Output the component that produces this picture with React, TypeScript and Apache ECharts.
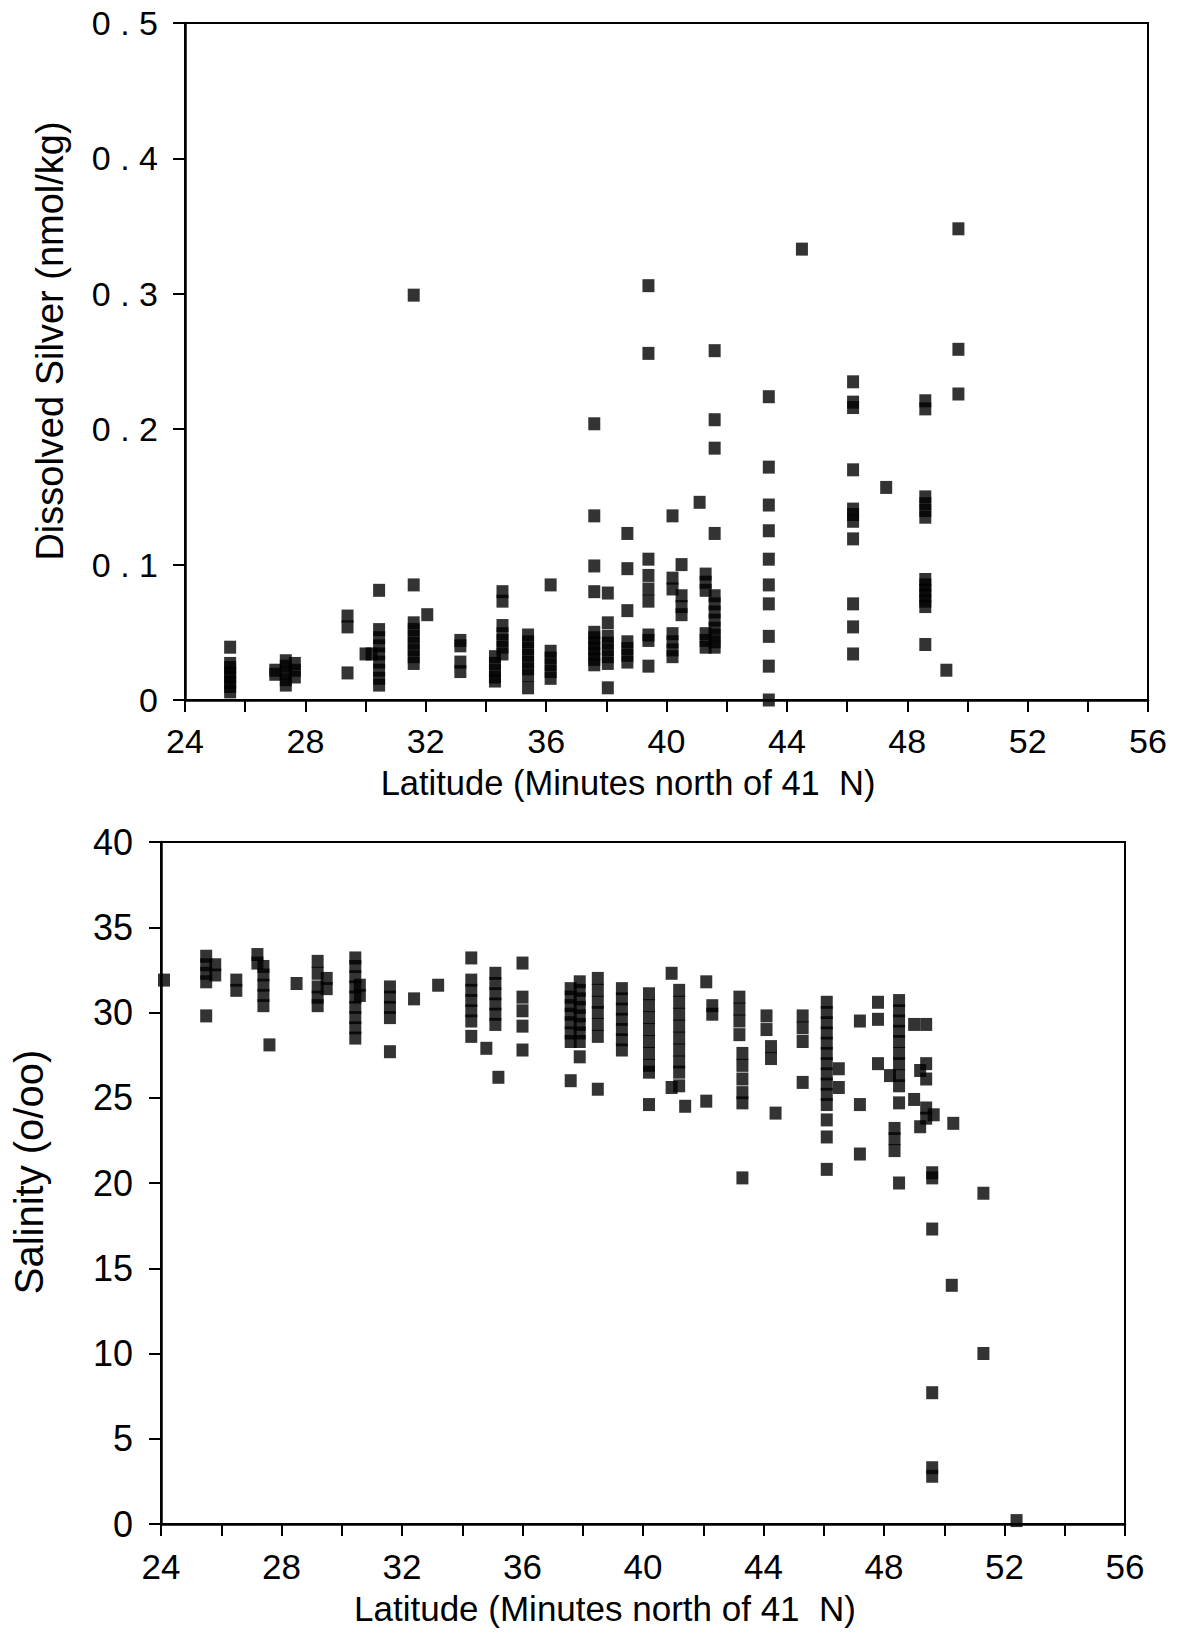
import React, { useEffect, useRef } from "react";
import * as echarts from "echarts";

// ---------- Data: top panel (dissolved silver, nmol/kg) ----------
const silverLatitudes: number[] = [
  25.5, 27.0, 27.35, 27.65, 29.4, 30.0, 30.2, 30.45, 31.6, 32.05, 33.15, 34.3, 34.55, 35.4, 36.15,
  37.6, 38.05, 38.7, 39.4, 40.2, 40.5, 41.1, 41.3, 41.6, 43.4, 44.5, 46.2, 47.3, 48.6, 49.3, 49.7,
];
const silverValues: number[][] = [
  [0.039, 0.027, 0.024, 0.02, 0.017, 0.013, 0.01, 0.006],
  [0.022, 0.019],
  [0.029, 0.025, 0.02, 0.015, 0.011],
  [0.027, 0.022, 0.017],
  [0.062, 0.054, 0.02],
  [0.034],
  [0.034],
  [0.081, 0.052, 0.046, 0.04, 0.034, 0.028, 0.022, 0.016, 0.011],
  [0.299, 0.085, 0.057, 0.052, 0.047, 0.042, 0.037, 0.032, 0.027],
  [0.063],
  [0.044, 0.04, 0.028, 0.021],
  [0.032, 0.027, 0.022, 0.017, 0.014],
  [0.08, 0.073, 0.055, 0.049, 0.044, 0.039, 0.034],
  [0.048, 0.043, 0.038, 0.033, 0.028, 0.023, 0.018, 0.009],
  [0.085, 0.036, 0.031, 0.026, 0.021, 0.016],
  [0.204, 0.136, 0.099, 0.08, 0.05, 0.046, 0.042, 0.038, 0.034, 0.03, 0.026],
  [0.079, 0.057, 0.047, 0.042, 0.037, 0.032, 0.027, 0.009],
  [0.123, 0.097, 0.066, 0.043, 0.038, 0.033, 0.028],
  [0.306, 0.256, 0.104, 0.092, 0.082, 0.073, 0.048, 0.044, 0.025],
  [0.136, 0.09, 0.082, 0.049, 0.043, 0.037, 0.032],
  [0.1, 0.077, 0.069, 0.063],
  [0.146],
  [0.093, 0.087, 0.081, 0.049, 0.044, 0.039],
  [0.258, 0.207, 0.186, 0.123, 0.077, 0.071, 0.065, 0.059, 0.053, 0.048, 0.043, 0.039],
  [0.224, 0.172, 0.144, 0.125, 0.104, 0.085, 0.071, 0.047, 0.025, 0.0],
  [0.333],
  [0.235, 0.22, 0.216, 0.17, 0.141, 0.137, 0.132, 0.119, 0.071, 0.054, 0.034],
  [0.157],
  [0.221, 0.215, 0.15, 0.145, 0.14, 0.135, 0.089, 0.085, 0.081, 0.077, 0.073, 0.069, 0.041],
  [0.022],
  [0.348, 0.259, 0.226],
];

// ---------- Data: bottom panel (salinity, o/oo) ----------
const salinityLatitudes: number[] = [
  24.1, 25.5, 25.8, 26.5, 27.2, 27.4, 27.6, 28.5, 29.2, 29.5, 30.45, 30.6, 31.6, 32.4, 33.2, 34.3,
  34.8, 35.1, 35.2, 36.0, 37.6, 37.9, 38.5, 39.3, 40.2, 40.95, 41.2, 41.4, 42.1, 42.3, 43.2, 43.3,
  44.1, 44.25, 44.4, 45.3, 46.1, 46.5, 47.2, 47.8, 48.2, 48.35, 48.5, 49.0, 49.2, 49.4, 49.6, 49.65,
  50.25, 50.3, 51.3, 52.4,
];
const salinityValues: number[][] = [
  [31.9],
  [33.3, 32.8, 32.3, 31.8, 29.8],
  [32.8, 32.2],
  [31.9, 31.3],
  [33.4, 32.9],
  [32.7, 32.2, 31.6, 31.0, 30.4],
  [28.1],
  [31.7],
  [33.0, 32.3, 31.5, 30.9, 30.4],
  [32.0, 31.4],
  [33.2, 32.7, 32.1, 31.5, 30.9, 30.3, 29.7, 29.1, 28.5],
  [31.6, 31.0],
  [31.5, 30.9, 30.3, 29.7, 27.7],
  [30.8],
  [31.6],
  [33.2, 31.9, 31.3, 30.7, 30.1, 29.5, 28.6],
  [27.9],
  [32.3, 31.7, 31.1, 30.5, 29.9, 29.3],
  [26.2],
  [32.9, 30.9, 30.1, 29.2, 27.8],
  [31.4, 30.9, 30.4, 29.9, 29.4, 28.8, 28.3, 26.0],
  [31.8, 31.3, 30.8, 30.3, 29.8, 29.3, 28.8, 28.3, 27.4],
  [32.0, 31.3, 30.6, 30.0, 29.3, 28.6, 25.5],
  [31.4, 30.8, 30.2, 29.6, 29.0, 28.4, 27.8],
  [31.1, 30.4, 29.7, 29.0, 28.3, 27.6, 26.9, 26.5, 24.6],
  [32.3, 25.6],
  [31.3, 30.6, 29.9, 29.2, 28.5, 27.8, 27.1, 26.5, 25.7],
  [24.5],
  [31.8, 24.8],
  [30.4, 29.9],
  [30.9, 30.2, 29.5, 28.7],
  [27.6, 26.9, 26.1, 25.3, 24.7, 20.3],
  [29.8, 29.0],
  [28.0, 27.3],
  [24.1],
  [29.8, 29.1, 28.3, 25.9],
  [30.6, 30.0, 29.4, 28.8, 28.2, 27.6, 27.0, 26.4, 25.8, 25.2, 24.6, 23.7, 22.7, 20.8],
  [26.7, 25.6],
  [29.5, 24.6, 21.7],
  [30.6, 29.6, 27.0],
  [26.3],
  [23.2, 22.6, 21.9],
  [30.7, 30.1, 29.5, 28.9, 28.3, 27.6, 27.0, 26.3, 25.7, 24.7, 20.0],
  [29.3, 24.9],
  [26.6, 23.3],
  [29.3, 27.0, 26.1, 24.4, 23.8],
  [20.6, 20.3, 17.3, 7.7, 3.3, 2.8],
  [24.0],
  [14.0],
  [23.5],
  [19.4, 10.0],
  [0.2],
];

// ---------- Axis ticks ----------
const latitudeTicks: number[] = [24, 28, 32, 36, 40, 44, 48, 52, 56];
const silverTicks: number[] = [0, 0.1, 0.2, 0.3, 0.4, 0.5];
const salinityTicks: number[] = [0, 5, 10, 15, 20, 25, 30, 35, 40];

const FONT = "'Liberation Sans', Arial, Helvetica, sans-serif";

function toPairs(lats: number[], vals: number[][]): number[][] {
  const out: number[][] = [];
  lats.forEach((lat, i) => {
    (vals[i] || []).forEach((v) => out.push([lat, v]));
  });
  return out;
}

export default function App() {
  const ref = useRef<HTMLDivElement | null>(null);

  useEffect(() => {
    if (!ref.current) return;
    const chart = echarts.init(ref.current, undefined, { renderer: "svg" });

    const latMin = latitudeTicks[0];
    const latMax = latitudeTicks[latitudeTicks.length - 1];

    const xAxisBase = (gridIndex: number, fontSize: number, margin: number) => ({
      type: "value" as const,
      gridIndex,
      min: latMin,
      max: latMax,
      interval: 2,
      axisLine: { show: true, onZero: false, lineStyle: { color: "#000", width: 2.5 } },
      axisTick: { show: true, inside: false, length: 12, lineStyle: { color: "#000", width: 2 } },
      splitLine: { show: false },
      axisLabel: {
        show: true,
        margin,
        color: "#000",
        fontSize,
        fontFamily: FONT,
        formatter: (v: number) => (latitudeTicks.indexOf(v) >= 0 ? String(v) : ""),
      },
    });

    const option = {
      animation: false,
      backgroundColor: "#fff",
      grid: [
        {
          left: 185,
          top: 23,
          width: 963,
          height: 677,
          show: true,
          borderColor: "#000",
          borderWidth: 2,
          backgroundColor: "transparent",
        },
        {
          left: 161,
          top: 842,
          width: 964,
          height: 682,
          show: true,
          borderColor: "#000",
          borderWidth: 2,
          backgroundColor: "transparent",
        },
      ],
      xAxis: [xAxisBase(0, 34, 24), xAxisBase(1, 35, 25)],
      yAxis: [
        {
          type: "value",
          gridIndex: 0,
          min: silverTicks[0],
          max: silverTicks[silverTicks.length - 1],
          interval: 0.1,
          axisLine: { show: true, onZero: false, lineStyle: { color: "#000", width: 2.5 } },
          axisTick: { show: true, inside: false, length: 12, lineStyle: { color: "#000", width: 2 } },
          splitLine: { show: false },
          axisLabel: {
            margin: 27,
            color: "#000",
            fontSize: 34,
            fontFamily: FONT,
            formatter: (v: number) => (v === 0 ? "0" : v.toFixed(1).split("").join(" ")),
          },
        },
        {
          type: "value",
          gridIndex: 1,
          min: salinityTicks[0],
          max: salinityTicks[salinityTicks.length - 1],
          interval: 5,
          axisLine: { show: true, onZero: false, lineStyle: { color: "#000", width: 2.5 } },
          axisTick: { show: true, inside: false, length: 12, lineStyle: { color: "#000", width: 2 } },
          splitLine: { show: false },
          axisLabel: {
            margin: 28,
            color: "#000",
            fontSize: 36,
            fontFamily: FONT,
            formatter: (v: number) => String(v),
          },
        },
      ],
      graphic: [
        {
          type: "text",
          x: 50,
          y: 341,
          rotation: Math.PI / 2,
          style: {
            text: "Dissolved Silver (nmol/kg)",
            fontSize: 38,
            fontFamily: FONT,
            fill: "#000",
            textAlign: "center",
            textVerticalAlign: "middle",
          },
        },
        {
          type: "text",
          x: 628,
          y: 783,
          style: {
            text: "Latitude (Minutes north of 41  N)",
            fontSize: 34.5,
            fontFamily: FONT,
            fill: "#000",
            textAlign: "center",
            textVerticalAlign: "middle",
          },
        },
        {
          type: "text",
          x: 29,
          y: 1172,
          rotation: Math.PI / 2,
          style: {
            text: "Salinity (o/oo)",
            fontSize: 40,
            fontFamily: FONT,
            fill: "#000",
            textAlign: "center",
            textVerticalAlign: "middle",
          },
        },
        {
          type: "text",
          x: 605,
          y: 1608,
          style: {
            text: "Latitude (Minutes north of 41  N)",
            fontSize: 35,
            fontFamily: FONT,
            fill: "#000",
            textAlign: "center",
            textVerticalAlign: "middle",
          },
        },
      ],
      series: [
        {
          name: "Dissolved Silver",
          type: "scatter",
          xAxisIndex: 0,
          yAxisIndex: 0,
          symbol: "rect",
          symbolSize: [12, 13],
          itemStyle: { color: "#000" },
          data: toPairs(silverLatitudes, silverValues),
        },
        {
          name: "Salinity",
          type: "scatter",
          xAxisIndex: 1,
          yAxisIndex: 1,
          symbol: "rect",
          symbolSize: [12, 13],
          itemStyle: { color: "#000" },
          data: toPairs(salinityLatitudes, salinityValues),
        },
      ],
    };

    chart.setOption(option as any);
    return () => {
      chart.dispose();
    };
  }, []);

  return (
    <div
      ref={ref}
      style={{ position: "absolute", left: 0, top: 0, width: 1178, height: 1633, background: "#fff" }}
    />
  );
}
